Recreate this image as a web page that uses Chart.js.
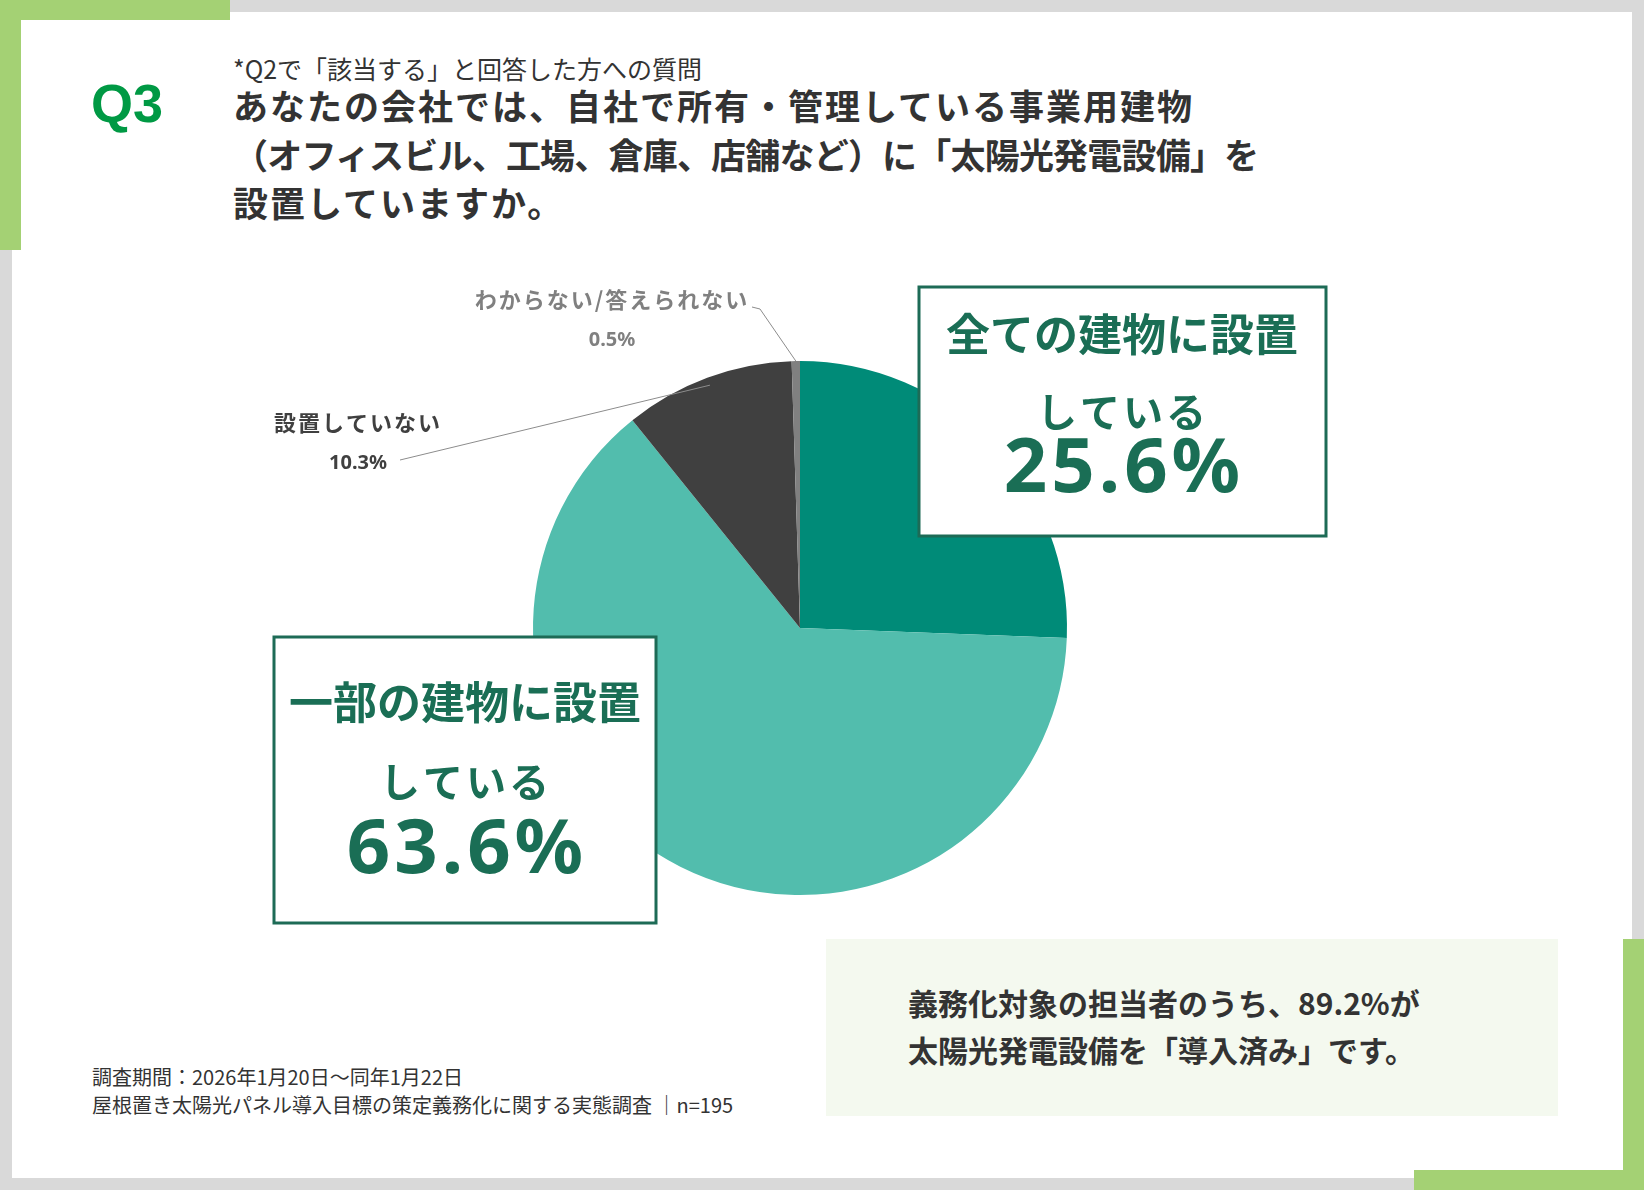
<!DOCTYPE html>
<html lang="ja">
<head>
<meta charset="utf-8">
<title>Q3 太陽光発電設備</title>
<script src="https://cdn.jsdelivr.net/npm/chart.js@4.4.1/dist/chart.umd.min.js"></script>
<style>
    html, body { margin: 0; padding: 0; }
    body {
        width: 1644px; height: 1190px; overflow: hidden; position: relative;
        background: #d9d9d9;
        font-family: "Noto Sans CJK JP", "Noto Sans", sans-serif;
        color: #333333;
    }
    .panel { position: absolute; left: 12px; top: 12px; width: 1620px; height: 1166px; background: #ffffff; }
    .gron { position: absolute; background: #a4d174; }
    .q3 {
        position: absolute; left: 91px; top: 76px;
        font-family: "Liberation Sans", Arial, sans-serif; font-weight: bold;
        font-size: 54px; line-height: 54px; color: #009944;
    }
    .underrubrik { position: absolute; left: 233px; top: 53px; font-size: 25px; line-height: 30px; white-space: nowrap; }
    .rubrik {
        position: absolute; left: 233px; top: 81px; font-size: 35px; line-height: 48.5px;
        font-weight: bold; white-space: nowrap; color: #333333;
    }
    .rubrik .r1 { letter-spacing: 2px; }
    .rubrik .r2 { letter-spacing: -0.8px; }
    .slutsats { position: absolute; left: 826px; top: 939px; width: 732px; height: 177px; background: #f4f9ef; }
    .slutsats div {
        position: absolute; left: 82px; top: 40px; font-size: 30px; line-height: 47px;
        font-weight: bold; white-space: nowrap; color: #333333;
    }
    .fot { position: absolute; left: 92px; top: 1063px; font-size: 20px; line-height: 28px; white-space: nowrap; color: #333333; }
    #mittDiagram { position: absolute; left: 0; top: 0; }
</style>
</head>
<body>
<div class="panel"></div>
<!-- Gröna hörn -->
<div class="gron" style="left:0;top:0;width:230px;height:20px"></div>
<div class="gron" style="left:0;top:0;width:21px;height:250px"></div>
<div class="gron" style="left:1623px;top:939px;width:21px;height:251px"></div>
<div class="gron" style="left:1414px;top:1170px;width:230px;height:20px"></div>

<div class="q3">Q3</div>
<div class="underrubrik">*Q2で「該当する」と回答した方への質問</div>
<div class="rubrik"><span class="r1">あなたの会社では、自社で所有・管理している事業用建物</span><br><span class="r2">（オフィスビル、工場、倉庫、店舗など）に「太陽光発電設備」を</span><br><span class="r1">設置していますか。</span></div>

<div class="slutsats"><div>義務化対象の担当者のうち、89.2%が<br>太陽光発電設備を「導入済み」です。</div></div>

<div class="fot">調査期間：2026年1月20日～同年1月22日<br>屋根置き太陽光パネル導入目標の策定義務化に関する実態調査 ｜n=195</div>

<canvas id="mittDiagram" width="1644" height="1190"></canvas>

<script>
// Data för diagrammet
const kategorier = ['全ての建物に設置している', '一部の建物に設置している', '設置していない', 'わからない/答えられない'];
const andelar = [25.6, 63.6, 10.3, 0.5];
const etikettRader = [['全ての建物に設置', 'している'], ['一部の建物に設置', 'している'], ['設置していない'], ['わからない/答えられない']];
const farger = ['#008b78', '#52bdad', '#404040', '#808080'];

// Namespace för diagrammet
const Diagram = {};

// Punkt på tårtbitens kant, mitt i biten
Diagram.kantpunkt = function(bage, andel) {
    const p = bage.getProps(['x', 'y', 'startAngle', 'endAngle', 'outerRadius'], true);
    const mitt = (p.startAngle + p.endAngle) / 2;
    return { x: p.x + Math.cos(mitt) * p.outerRadius * andel, y: p.y + Math.sin(mitt) * p.outerRadius * andel };
};

// Stora rutor med text för de två största bitarna
Diagram.rutor = [
    { index: 0, x: 919, y: 287, b: 407, h: 249, mittX: 1122, rad1: 334, rad2: 412, varde: 492 },
    { index: 1, x: 274, y: 637, b: 382, h: 286, mittX: 465, rad1: 702, rad2: 782, varde: 873 }
];

// Små etiketter med linjer för de två minsta bitarna
Diagram.sma = [
    { index: 2, mittX: 358, namnY: 423, vardeY: 463, farg: '#404040', linje: [[400, 460]], andel: 0.97 },
    { index: 3, mittX: 612, namnY: 300, vardeY: 340, farg: '#808080', linje: [[752, 307], [760, 309]], andel: 1.0 }
];

Diagram.etiketter = {
    id: 'etiketter',
    afterDraw(chart) {
        const ctx = chart.ctx;
        const bagar = chart.getDatasetMeta(0).data;
        ctx.save();

        // Linjer och små texter
        Diagram.sma.forEach(e => {
            const slut = Diagram.kantpunkt(bagar[e.index], e.andel);
            ctx.strokeStyle = '#8c8c8c';
            ctx.lineWidth = 1;
            ctx.beginPath();
            ctx.moveTo(e.linje[0][0], e.linje[0][1]);
            e.linje.slice(1).forEach(p => ctx.lineTo(p[0], p[1]));
            ctx.lineTo(slut.x, slut.y);
            ctx.stroke();

            ctx.fillStyle = e.farg;
            ctx.textAlign = 'center';
            ctx.textBaseline = 'middle';
            ctx.letterSpacing = '2px';
            ctx.font = 'bold 22px "Noto Sans CJK JP"';
            ctx.fillText(etikettRader[e.index][0], e.mittX, e.namnY);
            ctx.letterSpacing = '0px';
            ctx.font = 'bold 20px "Noto Sans", "Noto Sans CJK JP"';
            ctx.fillText(andelar[e.index].toFixed(1) + '%', e.mittX, e.vardeY);
        });

        // Rutor ovanpå tårtan
        Diagram.rutor.forEach(r => {
            ctx.fillStyle = '#ffffff';
            ctx.fillRect(r.x, r.y, r.b, r.h);
            ctx.strokeStyle = '#1d6b56';
            ctx.lineWidth = 3;
            ctx.strokeRect(r.x, r.y, r.b, r.h);

            ctx.fillStyle = '#1a6e55';
            ctx.textAlign = 'center';
            ctx.textBaseline = 'middle';
            ctx.letterSpacing = '0px';
            ctx.font = 'bold 44px "Noto Sans CJK JP"';
            ctx.fillText(etikettRader[r.index][0], r.mittX, r.rad1);
            ctx.letterSpacing = '3px';
            ctx.font = 'bold 40px "Noto Sans CJK JP"';
            ctx.fillText(etikettRader[r.index][1], r.mittX + 1, r.rad2);
            ctx.letterSpacing = '4px';
            ctx.textBaseline = 'alphabetic';
            ctx.font = 'bold 76px "Noto Sans", "Open Sans", sans-serif';
            ctx.fillText(andelar[r.index].toFixed(1) + '%', r.mittX + 2, r.varde);
        });
        ctx.restore();
    }
};

Diagram.ctx = document.getElementById('mittDiagram').getContext('2d');

Diagram.diagram = new Chart(Diagram.ctx, {
    type: 'pie',
    data: {
        labels: kategorier,
        datasets: [{
            data: andelar,
            backgroundColor: farger,
            borderWidth: 0,
            hoverOffset: 0
        }]
    },
    options: {
        responsive: false,
        animation: false,
        events: [],
        layout: { padding: { left: 533, right: 577, top: 360, bottom: 294 } },
        plugins: {
            legend: { display: false },
            tooltip: { enabled: false }
        }
    },
    plugins: [Diagram.etiketter]
});

// Rita om när typsnitten är klara
document.fonts.ready.then(() => Diagram.diagram.draw());
</script>
</body>
</html>
